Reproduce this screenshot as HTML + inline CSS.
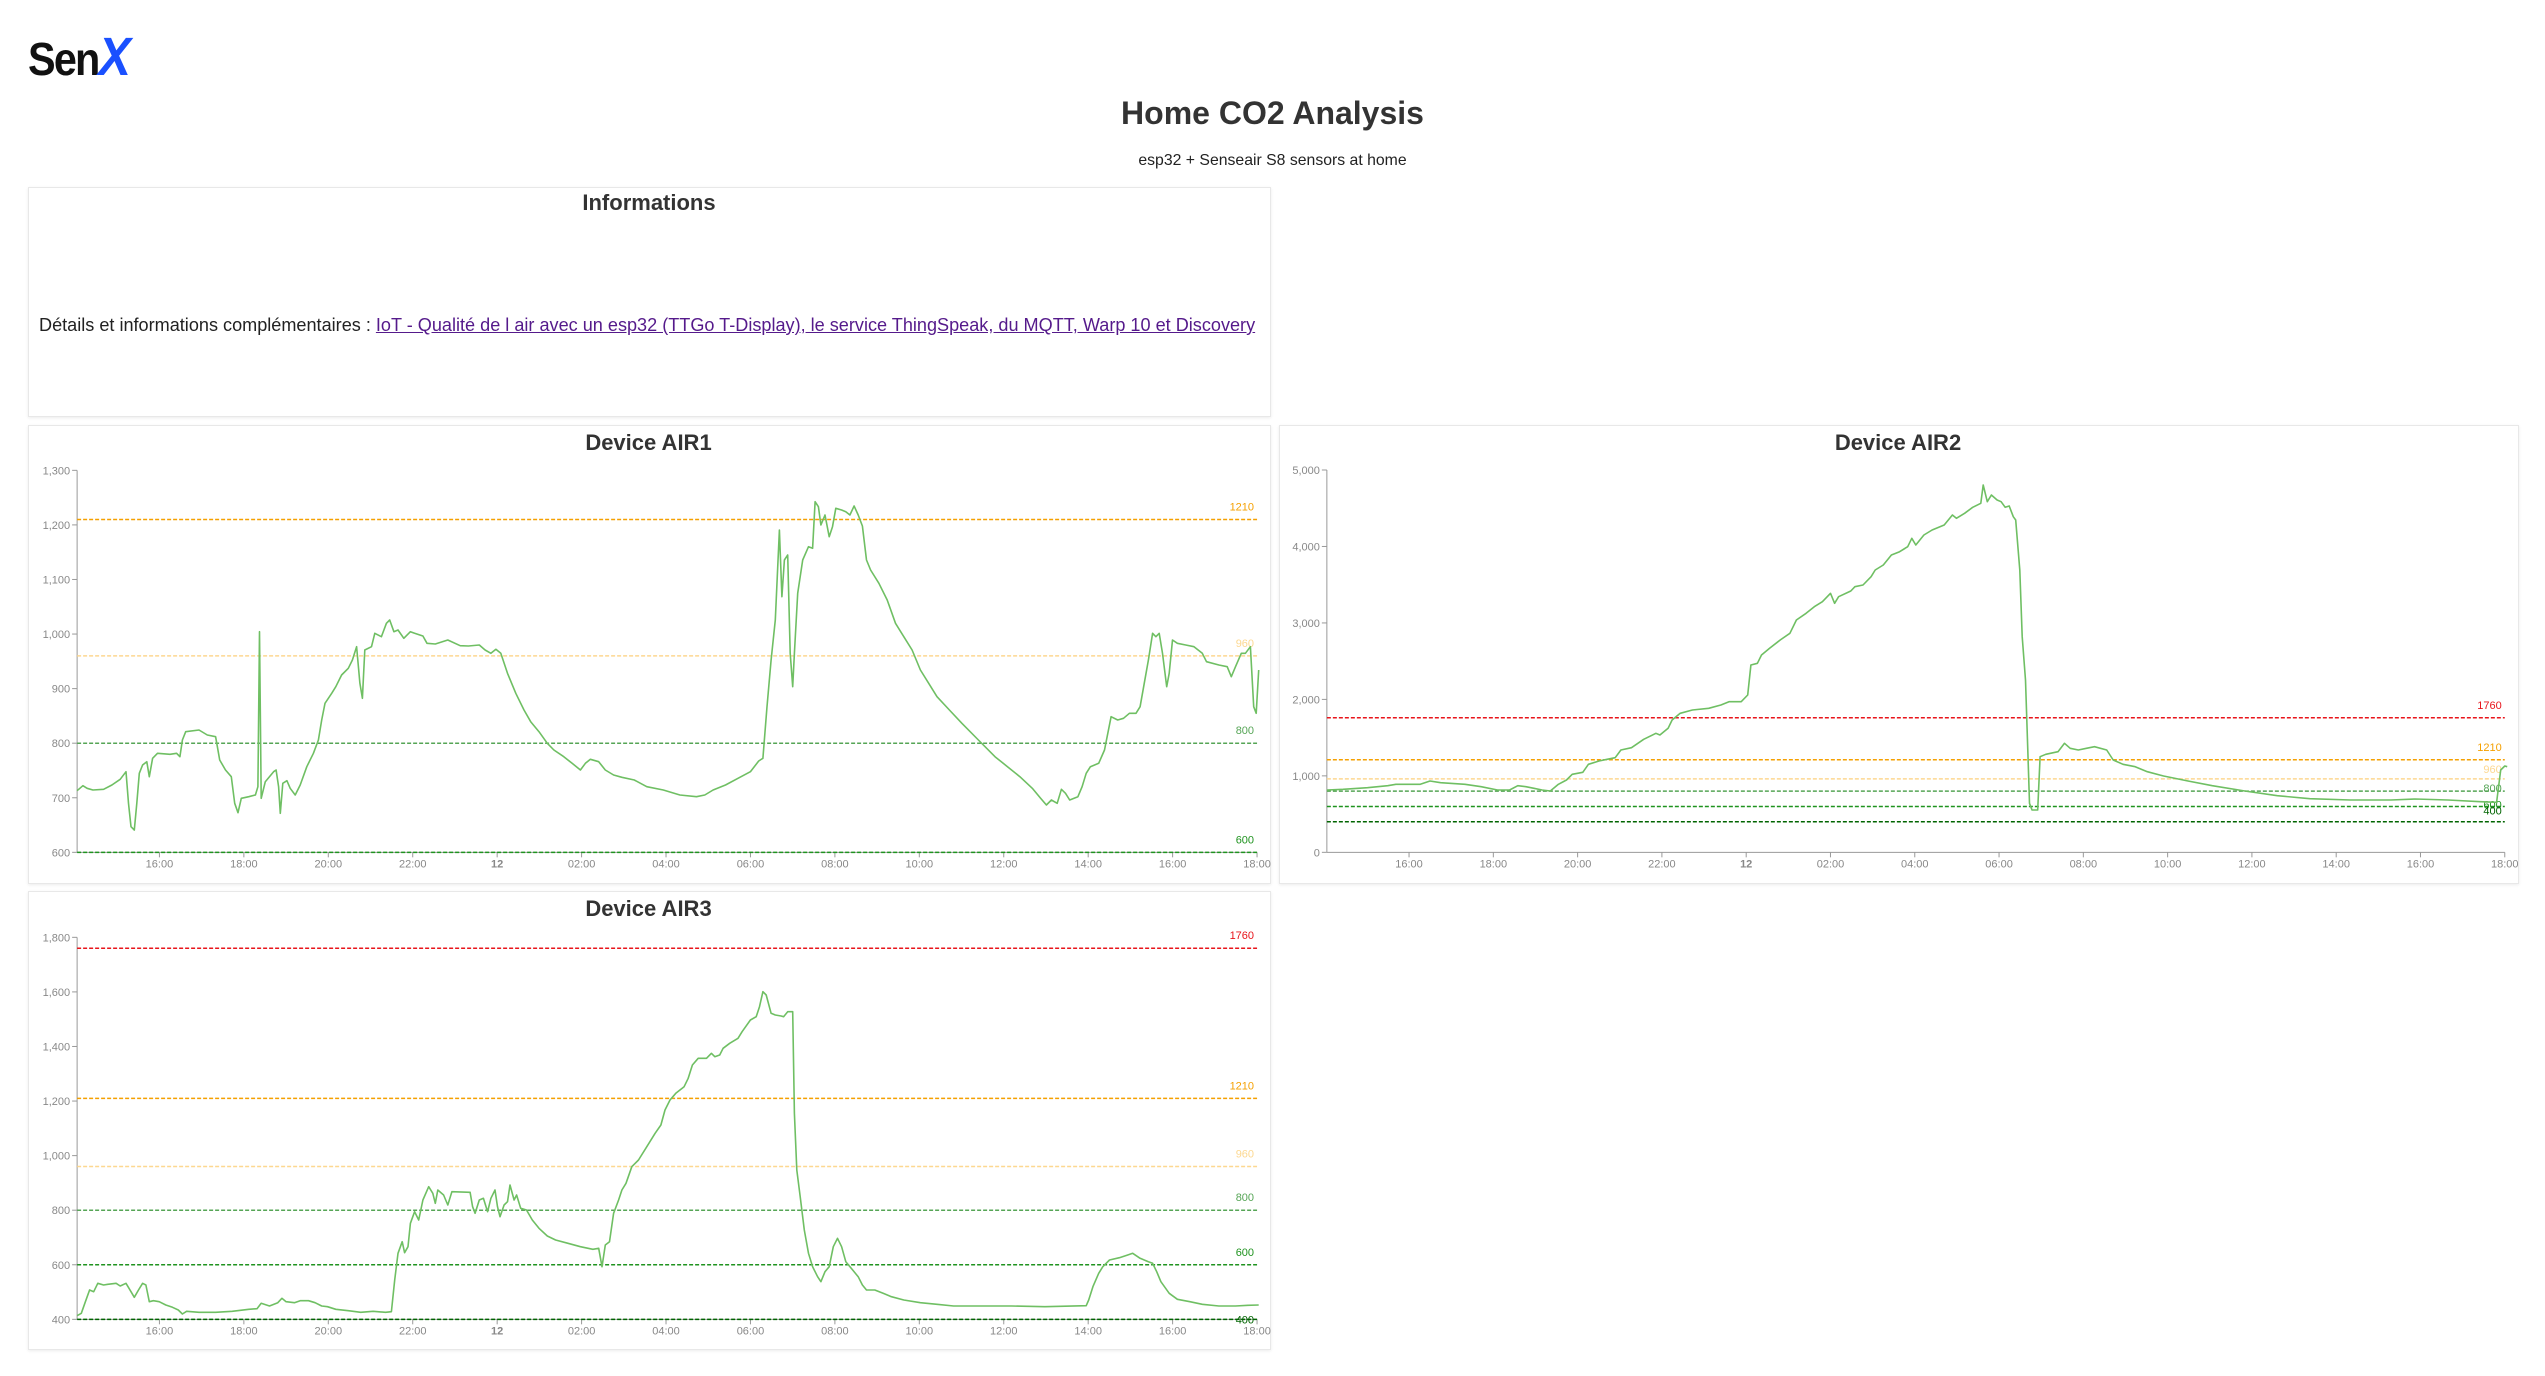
<!DOCTYPE html>
<html><head><meta charset="utf-8">
<style>
html,body{margin:0;padding:0;background:#fff;width:2545px;height:1376px;overflow:hidden;font-family:"Liberation Sans",Arial,sans-serif;}
.box{position:absolute;border:1px solid #e8e8e8;box-shadow:0 1px 3px rgba(0,0,0,0.08);background:#fff;}
#logo{position:absolute;left:28px;top:26px;font-weight:900;font-size:46px;letter-spacing:-2px;transform:scaleX(0.9);transform-origin:left top;color:#111;}
#logo span{color:#1a50ff;font-style:italic;font-size:54px;}
h1{position:absolute;left:0;width:2545px;top:95px;margin:0;text-align:center;font-size:32px;color:#333;font-weight:bold;}
.sub{position:absolute;left:0;width:2545px;top:152px;text-align:center;font-size:15.8px;color:#222;}
.info-t{position:absolute;left:28px;width:1242px;top:190px;text-align:center;font-size:22px;font-weight:bold;color:#333;}
.info-d{position:absolute;left:39px;top:315px;font-size:18.1px;color:#222;white-space:nowrap;}
.info-d a{color:#551a8b;text-decoration:underline;}
svg{position:absolute;left:0;top:0;}
</style></head><body>
<div id="logo">Sen<span>X</span></div>
<h1>Home CO2 Analysis</h1>
<div class="sub">esp32 + Senseair S8 sensors at home</div>
<div class="box" style="left:28px;top:187px;width:1241px;height:228px;"></div>
<div class="info-t">Informations</div>
<div class="info-d">Détails et informations complémentaires : <a>IoT - Qualité de l air avec un esp32 (TTGo T-Display), le service ThingSpeak, du MQTT, Warp 10 et Discovery</a></div>
<div class="box" style="left:28px;top:425px;width:1241px;height:457px;"></div>
<div class="box" style="left:1279px;top:425px;width:1238px;height:457px;"></div>
<div class="box" style="left:28px;top:891px;width:1241px;height:457px;"></div>
<svg id="s" width="2545" height="1376" xmlns="http://www.w3.org/2000/svg" font-family="Liberation Sans, Arial, sans-serif"></svg>
<script>
var S=document.getElementById('s');var out='';
function T(x,y,t,o){o=o||{};out+='<text x="'+x+'" y="'+y+'" font-size="'+(o.fs||11)+'" fill="'+(o.c||'#888')+'" text-anchor="'+(o.a||'middle')+'"'+(o.w?' font-weight="bold"':'')+'>'+t+'</text>';}
function L(x1,y1,x2,y2,c,d,w){out+='<line x1="'+x1+'" y1="'+y1+'" x2="'+x2+'" y2="'+y2+'" stroke="'+c+'" stroke-width="'+(w||1)+'"'+(d?' stroke-dasharray="'+d+'"':'')+'/>';}
var refC={1760:'#e8151b',1210:'#f5a000',960:'#fdd890',800:'#56a556',600:'#1f931f',400:'#006400'};
function chart(c){
 var X=function(zx){return c.xo+zx/c.xs;},Y=function(zy){return c.yo+zy/3;};
 var ax=X(c.axz),rx=X(c.rz),ty=Y(c.topz),by=Y(c.botz);
 var vy=function(v){return by-(v-c.vmin)*(by-ty)/(c.vmax-c.vmin);};
 T((c.bl+c.br)/2,c.titley,c.title,{fs:22,c:'#333',w:1});
 L(ax,ty,ax,by,'#999');L(ax,by,rx,by,'#999');
 for(var v=c.vmin;v<=c.vmax;v+=c.step){var y=vy(v);L(ax-5,y,ax,y,'#999');T(ax-7,y+4,v>=1000?(Math.floor(v/1000)+','+('00'+(v%1000)).slice(-3)):v,{a:'end',fs:11});}
 var labs=['16:00','18:00','20:00','22:00','12','02:00','04:00','06:00','08:00','10:00','12:00','14:00','16:00','18:00'];
 var pxh=(rx-ax)/27.95;
 for(var i=0;i<labs.length;i++){var x=ax+(1.95+2*i)*pxh;L(x,by,x,by+5,'#999');T(x,by+15,labs[i],{fs:11,w:labs[i]=='12'});}
 c.refs.forEach(function(r){var y=vy(r);L(ax,y,rx,y,refC[r],'4,2',1.5);});
 c.reflab.forEach(function(r){T(rx-3,vy(r[0])-r[1],r[0],{a:'end',fs:11,c:refC[r[0]]});});
 var p=c.d.map(function(q,i){return (i?'L':'M')+X(q[0]).toFixed(1)+' '+Y(q[1]).toFixed(1);}).join('');
 out+='<path d="'+p+'" fill="none" stroke="#6fbf63" stroke-width="1.6" stroke-linejoin="round"/>';
}
chart({xo:0,xs:1.206,yo:420,axz:93,rz:1516,topz:151,botz:1297,vmin:600,vmax:1300,step:100,title:'Device AIR1',titley:450,bl:28,br:1269,
 refs:[1210,960,800,600],reflab:[[1210,9],[960,9],[800,9],[600,9]],
 d:[[93,1112],[100,1097],[105,1105],[112,1110],[125,1108],[135,1095],[145,1078],[152,1055],[155,1150],[158,1220],[162,1230],[165,1150],[168,1060],[172,1035],[177,1025],[180,1070],[184,1015],[190,1000],[205,1003],[213,1000],[217,1010],[220,960],[224,935],[240,930],[250,945],[260,950],[265,1020],[272,1050],[279,1070],[283,1150],[287,1178],[291,1135],[300,1130],[308,1125],[311,1100],[313,635],[315,1135],[320,1085],[330,1055],[333,1050],[336,1100],[338,1180],[341,1090],[346,1082],[350,1105],[356,1125],[362,1095],[370,1040],[378,1000],[384,960],[388,900],[392,850],[400,820],[405,800],[412,765],[420,745],[425,720],[430,680],[434,790],[437,835],[440,690],[448,680],[452,640],[460,650],[466,610],[470,600],[475,635],[480,630],[487,655],[495,635],[500,640],[510,648],[515,670],[525,672],[540,660],[555,677],[565,678],[578,675],[585,690],[592,700],[598,688],[604,700],[612,760],[622,820],[632,870],[640,905],[650,935],[660,970],[668,990],[680,1010],[690,1030],[700,1050],[706,1030],[712,1018],[722,1025],[730,1050],[740,1065],[750,1072],[765,1080],[780,1100],[800,1110],[820,1125],[840,1130],[850,1125],[860,1110],[875,1095],[890,1075],[905,1055],[915,1023],[920,1015],[925,860],[930,720],[935,600],[940,330],[943,530],[946,420],[950,405],[953,700],[956,800],[958,700],[962,520],[968,420],[975,380],[980,385],[983,245],[987,260],[990,315],[995,285],[1000,350],[1004,320],[1008,265],[1015,270],[1020,275],[1025,285],[1030,258],[1035,285],[1040,318],[1045,420],[1050,450],[1060,490],[1070,540],[1080,610],[1090,650],[1100,690],[1110,750],[1120,790],[1130,830],[1145,870],[1160,910],[1180,960],[1200,1010],[1215,1040],[1230,1070],[1245,1105],[1255,1135],[1262,1155],[1268,1140],[1275,1150],[1280,1108],[1285,1120],[1290,1140],[1300,1130],[1305,1100],[1310,1060],[1315,1040],[1325,1030],[1332,990],[1340,890],[1348,900],[1355,895],[1362,880],[1370,880],[1375,860],[1385,720],[1390,640],[1394,650],[1398,640],[1402,700],[1407,800],[1410,760],[1414,660],[1420,670],[1430,675],[1440,680],[1450,700],[1455,725],[1470,735],[1480,740],[1485,770],[1490,740],[1497,700],[1502,700],[1508,680],[1512,860],[1515,880],[1518,750]]});
chart({xo:1270,xs:1.231,yo:420,axz:70,rz:1520,topz:150,botz:1297,vmin:0,vmax:5000,step:1000,title:'Device AIR2',titley:450,bl:1279,br:2517,
 refs:[1760,1210,960,800,600,400],reflab:[[1760,9],[1210,9],[960,6],[800,-1],[600,-2],[400,7]],
 d:[[70,1110],[90,1108],[120,1103],[145,1097],[155,1093],[185,1093],[197,1083],[210,1088],[240,1093],[260,1100],[280,1110],[295,1110],[305,1097],[315,1100],[325,1105],[335,1110],[345,1113],[355,1093],[365,1080],[372,1063],[385,1057],[392,1033],[405,1023],[415,1018],[425,1013],[432,990],[445,983],[460,958],[475,940],[480,945],[490,925],[495,900],[505,880],[520,870],[540,865],[555,855],[565,845],[580,845],[588,825],[592,735],[600,730],[605,705],[615,685],[628,660],[640,640],[648,600],[660,580],[670,560],[680,545],[690,520],[695,550],[700,530],[715,513],[720,500],[730,495],[740,470],[745,450],[755,435],[765,405],[775,395],[785,380],[790,355],[795,375],[805,345],[815,330],[830,315],[840,285],[845,295],[855,280],[865,262],[875,250],[878,195],[883,245],[888,225],[895,240],[900,245],[905,262],[910,258],[915,290],[918,300],[923,450],[926,650],[930,780],[933,1000],[935,1150],[938,1170],[945,1170],[948,1010],[955,1003],[970,995],[978,970],[985,985],[995,990],[1005,985],[1015,980],[1030,990],[1038,1020],[1050,1033],[1065,1040],[1080,1055],[1100,1068],[1130,1083],[1160,1097],[1200,1113],[1240,1127],[1280,1136],[1330,1140],[1380,1140],[1410,1137],[1450,1140],[1490,1145],[1510,1147],[1515,1050],[1520,1038],[1523,1040]]});
chart({xo:0,xs:1.206,yo:880,axz:93,rz:1516,topz:172,botz:1318,vmin:400,vmax:1800,step:200,title:'Device AIR3',titley:916,bl:28,br:1269,
 refs:[1760,1210,960,800,600,400],reflab:[[1760,9],[1210,9],[960,9],[800,9],[600,9],[400,-4]],
 d:[[93,1307],[98,1300],[103,1265],[108,1230],[113,1235],[118,1210],[125,1215],[130,1213],[140,1210],[145,1218],[152,1210],[158,1235],[162,1252],[167,1230],[172,1210],[176,1215],[180,1265],[185,1262],[192,1265],[200,1275],[208,1282],[215,1290],[220,1302],[225,1294],[240,1297],[260,1297],[280,1294],[300,1288],[310,1286],[315,1270],[325,1278],[335,1268],[340,1255],[345,1265],[355,1268],[362,1262],[372,1262],[380,1268],[388,1278],[395,1280],[405,1288],[420,1292],[435,1297],[450,1294],[465,1297],[472,1295],[476,1200],[480,1120],[485,1085],[488,1118],[492,1100],[495,1030],[500,995],[505,1020],[510,960],[517,920],[522,940],[525,970],[528,930],[535,945],[540,975],[545,935],[567,937],[570,980],[573,1000],[578,960],[583,955],[588,995],[592,955],[597,930],[600,980],[603,1010],[608,975],[612,965],[615,915],[620,960],[623,945],[628,985],[635,990],[642,1020],[650,1045],[660,1068],[670,1080],[685,1090],[700,1100],[715,1108],[722,1105],[726,1160],[730,1095],[735,1085],[740,1000],[746,960],[750,930],[755,910],[762,860],[770,840],[780,800],[790,760],[797,735],[802,690],[808,660],[815,640],[825,620],[830,595],[835,555],[842,535],[852,535],[858,520],[862,530],[868,525],[872,505],[880,490],[890,475],[895,455],[905,420],[912,410],[916,380],[920,335],[924,345],[930,400],[935,405],[942,408],[945,410],[950,395],[956,395],[958,700],[961,870],[965,950],[970,1050],[975,1120],[980,1160],[986,1190],[990,1205],[995,1175],[1000,1160],[1005,1100],[1010,1075],[1015,1100],[1020,1145],[1030,1175],[1035,1190],[1040,1215],[1045,1230],[1055,1230],[1065,1240],[1075,1250],[1090,1260],[1110,1268],[1130,1273],[1150,1278],[1180,1278],[1220,1278],[1260,1280],[1310,1277],[1313,1260],[1318,1220],[1325,1180],[1330,1160],[1338,1140],[1350,1133],[1360,1125],[1366,1120],[1375,1135],[1385,1145],[1390,1150],[1395,1175],[1400,1205],[1410,1240],[1420,1258],[1435,1265],[1450,1273],[1470,1278],[1490,1278],[1505,1276],[1518,1275]]});
S.innerHTML=out;
</script>
</body></html>
